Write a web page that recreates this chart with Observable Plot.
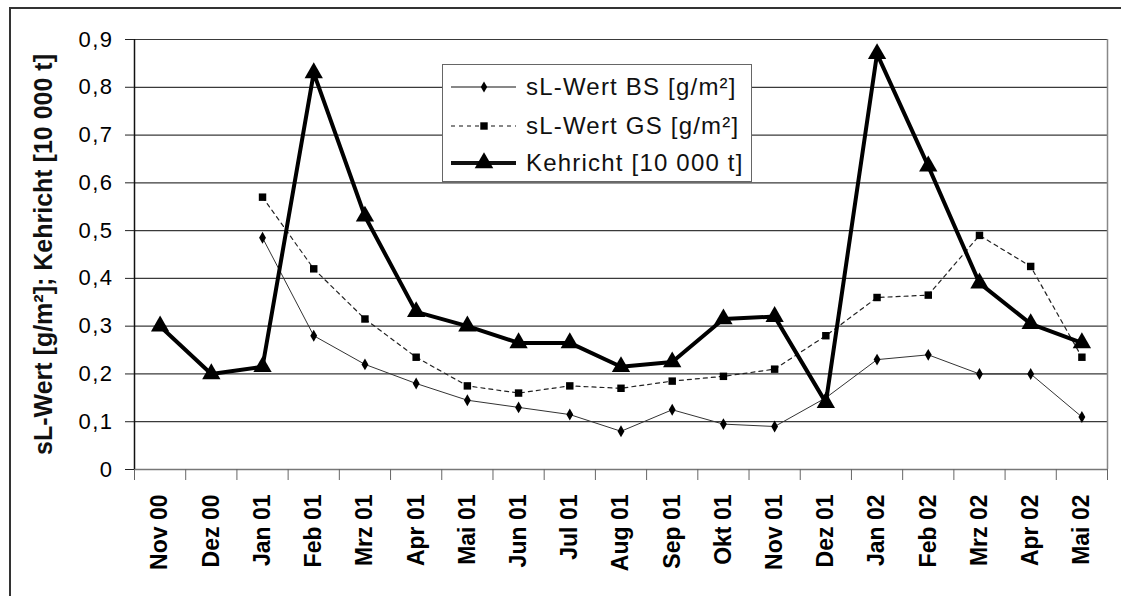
<!DOCTYPE html>
<html>
<head>
<meta charset="utf-8">
<script src="https://cdn.jsdelivr.net/npm/d3@7"></script>
<script src="https://cdn.jsdelivr.net/npm/@observablehq/plot@0.6"></script>
<style>
  html, body { margin: 0; padding: 0; background: #fff; }
  body { width: 1121px; height: 596px; position: relative; overflow: hidden; font-family: "Liberation Sans", Arial, sans-serif; }
  #frame { position: absolute; left: 9px; top: 7px; width: 1200px; height: 700px; border-top: 2px solid #333; border-left: 2px solid #333; }
  #chart { position: absolute; left: 0; top: 0; }
  #chart svg { font-family: "Liberation Sans", Arial, sans-serif; }
  #legend { position: absolute; left: 442px; top: 64px; width: 310px; height: 118px; border: 1px solid #666; background: #fff; box-sizing: border-box; }
  .lg-row { position: absolute; left: 0; height: 36px; display: flex; align-items: center; }
  .lg-row svg { display: block; }
  .lg-row span { font-size: 24px; letter-spacing: 1.2px; color: #111; margin-left: 8px; white-space: nowrap; }
</style>
</head>
<body>
<div id="frame"></div>
<div id="chart"></div>
<div id="legend"></div>
<script>
// ---- data ----
const months = ["Nov 00","Dez 00","Jan 01","Feb 01","Mrz 01","Apr 01","Mai 01","Jun 01","Jul 01","Aug 01","Sep 01","Okt 01","Nov 01","Dez 01","Jan 02","Feb 02","Mrz 02","Apr 02","Mai 02"];
const bsValues = [null, null, 0.485, 0.28, 0.22, 0.18, 0.145, 0.13, 0.115, 0.08, 0.125, 0.095, 0.09, 0.15, 0.23, 0.24, 0.20, 0.20, 0.11];
const gsValues = [null, null, 0.57, 0.42, 0.315, 0.235, 0.175, 0.16, 0.175, 0.17, 0.185, 0.195, 0.21, 0.28, 0.36, 0.365, 0.49, 0.425, 0.235];
const kehrichtValues = [0.30, 0.20, 0.215, 0.83, 0.53, 0.33, 0.30, 0.265, 0.265, 0.215, 0.225, 0.315, 0.32, 0.14, 0.87, 0.635, 0.39, 0.305, 0.265];
const seriesNames = ["sL-Wert BS [g/m²]", "sL-Wert GS [g/m²]", "Kehricht [10 000 t]"];
const yTicks = [0, 0.1, 0.2, 0.3, 0.4, 0.5, 0.6, 0.7, 0.8, 0.9];
const yLabel = "sL-Wert [g/m²]; Kehricht [10 000 t]";

// ---- derived tables ----
const toRows = arr => arr.map((v, i) => ({i, v})).filter(d => d.v != null);
const bs = toRows(bsValues), gs = toRows(gsValues), kh = toRows(kehrichtValues);
const idx = months.map((_, i) => i);
const bounds = [-0.5, ...idx.map(i => i + 0.5)];
const fmt = d => d === 0 ? "0" : d.toFixed(1).replace(".", ",");

const chart = Plot.plot({
  width: 1121,
  height: 596,
  marginTop: 39,
  marginLeft: 134,
  marginRight: 14,
  marginBottom: 127,
  x: {type: "linear", domain: [-0.5, months.length - 0.5]},
  y: {domain: [0, 0.9]},
  marks: [
    Plot.gridY(yTicks, {stroke: "#3a3a3a", strokeOpacity: 1, strokeWidth: 1.2}),
    Plot.ruleY([0], {stroke: "#777", strokeWidth: 1.5}),
    Plot.ruleX([months.length - 0.5], {stroke: "#888", strokeWidth: 1.5}),
    Plot.ruleX([-0.5], {stroke: "#111", strokeWidth: 1.5}),
    Plot.axisY(yTicks, {
      tickSize: 9, tickPadding: 12, tickFormat: fmt, fontSize: 21, stroke: "#222",
      label: yLabel, labelAnchor: "center", labelOffset: 100, labelArrow: "none"
    }),
    Plot.axisX(bounds, {tickSize: 11, tickFormat: () => "", stroke: "#666", label: null}),
    Plot.axisX(idx, {tickSize: 0, tickPadding: 25, tickRotate: -90, tickFormat: i => months[i], fontSize: 23, fontWeight: "bold", label: null}),
    Plot.line(gs, {x: "i", y: "v", stroke: "#222", strokeWidth: 1.2, strokeDasharray: "4,4"}),
    Plot.line(bs, {x: "i", y: "v", stroke: "#333", strokeWidth: 1}),
    Plot.line(kh, {x: "i", y: "v", stroke: "#000", strokeWidth: 4, strokeLinejoin: "round"}),
    Plot.dot(gs, {x: "i", y: "v", symbol: "square", r: 4.2, fill: "#000", stroke: "none"}),
    Plot.dot(bs, {x: "i", y: "v", symbol: "diamond", r: 3.6, fill: "#000", stroke: "none"}),
    Plot.dot(kh, {x: "i", y: "v", symbol: "triangle", r: 6.8, fill: "#000", stroke: "none"})
  ]
});
document.getElementById("chart").appendChild(chart);
// style the y-axis label and tick labels
chart.querySelectorAll('[aria-label="y-axis label"] text').forEach(t => {
  t.setAttribute("font-weight", "bold");
  t.setAttribute("font-size", "25");
  t.setAttribute("fill", "#111");
});
chart.querySelectorAll('[aria-label="y-axis tick label"]').forEach(g => {
  g.setAttribute("font-size", "22");
  g.style.fontSize = "22px";
  g.setAttribute("letter-spacing", "1.5");
});

// ---- legend ----
const legend = document.getElementById("legend");
const styles = [
  {dash: null, w: 1, sym: "diamond", size: 36},
  {dash: "4,4", w: 1.2, sym: "square", size: 55},
  {dash: null, w: 4, sym: "triangle", size: 150}
];
const tops = [4, 43, 80];
seriesNames.forEach((name, k) => {
  const row = document.createElement("div");
  row.className = "lg-row";
  row.style.top = tops[k] + "px";
  const s = styles[k];
  const svg = d3.create("svg").attr("width", 75).attr("height", 36);
  svg.append("line").attr("x1", 8).attr("x2", 73).attr("y1", 18).attr("y2", 18)
    .attr("stroke", "#111").attr("stroke-width", s.w).attr("stroke-dasharray", s.dash);
  const symType = {diamond: d3.symbolDiamond, square: d3.symbolSquare, triangle: d3.symbolTriangle}[s.sym];
  svg.append("path").attr("d", d3.symbol(symType, s.size)()).attr("transform", "translate(41,18)").attr("fill", "#000");
  row.appendChild(svg.node());
  const span = document.createElement("span");
  span.textContent = name;
  row.appendChild(span);
  legend.appendChild(row);
});
</script>
</body>
</html>
